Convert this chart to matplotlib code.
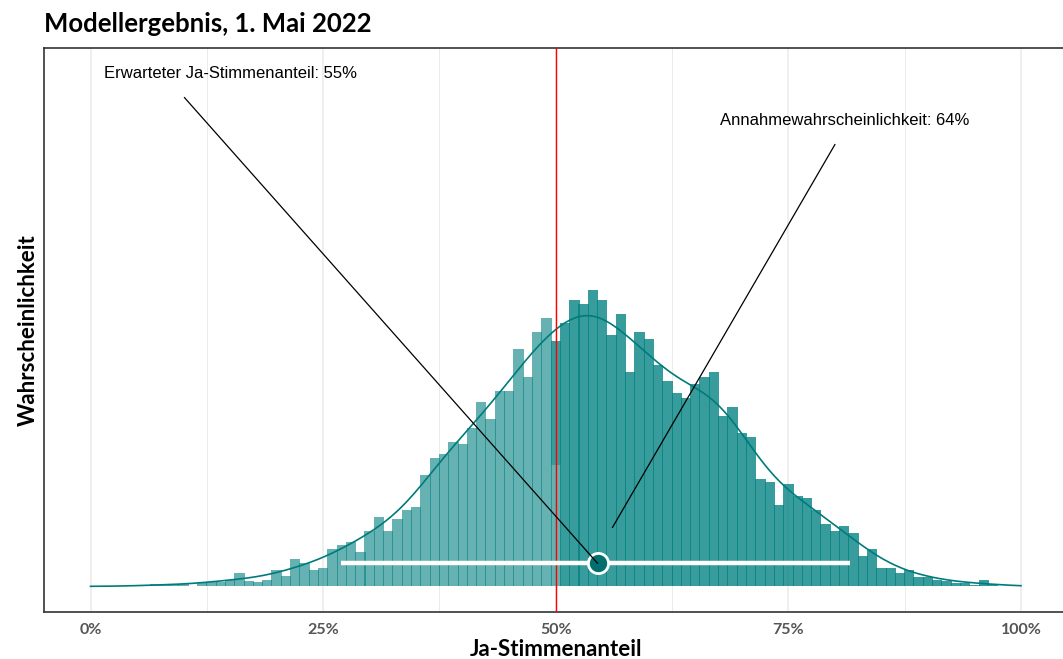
import numpy as np
import matplotlib
matplotlib.use("Agg")
import matplotlib.pyplot as plt
from matplotlib.ticker import FixedLocator

# ---------------- data ----------------
# histogram bins: 1 %-wide bins centred on whole percents (share of yes votes)
bin_pct = list(range(5, 98))
# relative frequency (arbitrary units)
heights = {
    5: 0.5, 6: 0.5, 7: 2.7, 8: 1.0, 9: 2.5, 10: 2.0, 11: 0.8, 12: 3.0, 13: 4.5, 14: 4.8,
    15: 6.0, 16: 13.7, 17: 5.0, 18: 4.7, 19: 6.7, 20: 16.7, 21: 10.0, 22: 27.7, 23: 23.3,
    24: 16.8, 25: 18.8, 26: 37.7, 27: 41.7, 28: 44.5, 29: 34.8, 30: 55.7, 31: 69.7,
    32: 55.7, 33: 67.8, 34: 76.7, 35: 79.7, 36: 111.7, 37: 128.7, 38: 132.8, 39: 144.7,
    40: 142.8, 41: 158.5, 42: 184.7, 43: 167.7, 44: 195.7, 45: 195.7, 46: 237.7,
    47: 209.7, 48: 254.8, 49: 268.8, 50: 245.0, 51: 264.0, 52: 286.7, 53: 282.7,
    54: 296.7, 55: 286.7, 56: 251.7, 57: 272.7, 58: 214.7, 59: 254.7, 60: 247.7,
    61: 221.7, 62: 205.7, 63: 193.7, 64: 188.7, 65: 202.7, 66: 209.7, 67: 214.7,
    68: 170.7, 69: 179.7, 70: 153.7, 71: 149.7, 72: 107.7, 73: 104.7, 74: 81.7,
    75: 102.7, 76: 90.7, 77: 88.7, 78: 76.7, 79: 62.7, 80: 55.7, 81: 60.7, 82: 53.7,
    83: 30.7, 84: 37.7, 85: 18.7, 86: 18.7, 87: 13.7, 88: 16.7, 89: 9.7, 90: 9.0,
    91: 6.7, 92: 5.7, 93: 3.0, 94: 3.7, 95: 1.0, 96: 6.7, 97: 2.0,
}
# in the bin centred on 50 % part of the draws lie below 50 %
split_bin_light = 121.7

expected_share = 0.545          # "Erwarteter Ja-Stimmenanteil: 55%"
interval_low, interval_high = 0.269, 0.816
acceptance_prob = 64            # "Annahmewahrscheinlichkeit: 64%"
threshold = 0.5

x_ticks = [0, 0.25, 0.5, 0.75, 1.0]
x_tick_labels = ["0%", "25%", "50%", "75%", "100%"]
x_minor = [0.125, 0.375, 0.625, 0.875]

title = "Modellergebnis, 1. Mai 2022"
x_label = "Ja-Stimmenanteil"
y_label = "Wahrscheinlichkeit"
ann1 = f"Erwarteter Ja-Stimmenanteil: {round(expected_share*100)}%"
ann2 = f"Annahmewahrscheinlichkeit: {acceptance_prob}%"

# ---------------- derived ----------------
centers = np.array(bin_pct) / 100.0
h = np.array([heights[k] for k in bin_pct])
light = np.where(centers < threshold - 1e-9, h, 0.0)
dark = np.where(centers >= threshold - 1e-9, h, 0.0)
idx50 = bin_pct.index(50)
light[idx50] = split_bin_light
dark[idx50] = h[idx50] - split_bin_light
width = 0.01

# smoothed density from histogram (gaussian smoothing, area preserving)
sigma = 0.029
grid = np.linspace(0, 1, 801)
dens = (h[None, :] * width / (sigma * np.sqrt(2 * np.pi)) *
        np.exp(-0.5 * ((grid[:, None] - centers[None, :]) / sigma) ** 2)).sum(axis=1)

# ---------------- plot ----------------
teal = "#008080"
fig = plt.figure(figsize=(10.63, 6.59), dpi=100)
ax = fig.add_axes([44 / 1063, 1 - 612 / 659, (1067.5 - 44) / 1063, (612 - 48) / 659])

ax.set_xlim(-0.05, 1.05)
ymax_pad = 513.0
ax.set_ylim(-0.05 * ymax_pad, ymax_pad * 1.05)

ax.xaxis.set_major_locator(FixedLocator(x_ticks))
ax.xaxis.set_minor_locator(FixedLocator(x_minor))
ax.set_xticklabels(x_tick_labels)
ax.set_yticks([])
ax.grid(True, which="major", axis="x", color="#ebebeb", lw=1.1, zorder=0)
ax.grid(True, which="minor", axis="x", color="#ebebeb", lw=0.7, zorder=0)
ax.set_axisbelow(True)
ax.tick_params(axis="x", which="both", length=0, pad=8)
for lab in ax.get_xticklabels():
    lab.set_fontfamily("Lato")
    lab.set_fontweight("bold")
    lab.set_fontsize(11.5)
    lab.set_color("#555555")

overlap = 0.0011
ax.bar(centers, light, width=width + overlap, color=teal, alpha=0.6,
       linewidth=0, zorder=2)
ax.bar(centers, dark, width=width + overlap, bottom=light, color=teal, alpha=0.78,
       linewidth=0, zorder=2)
ax.plot(grid, dens, color="#007b7b", lw=1.2, zorder=3)

ax.axvline(threshold, color="#ff0000", lw=1.0, zorder=4)

interval_y = 23
ax.plot([interval_low, interval_high], [interval_y, interval_y], color="white",
        lw=3.2, solid_capstyle="butt", zorder=5)
ax.plot([expected_share], [interval_y], marker="o", ms=14.5, mfc="#006f6d",
        mec="white", mew=2.0, zorder=6)

# annotations
ax.text(0.15, 513, ann1, ha="center", va="center", fontsize=12,
        family="Liberation Sans", zorder=7)
ax.plot([0.101, expected_share], [489, interval_y], color="black", lw=0.9, zorder=6)
ax.text(0.811, 466, ann2, ha="center", va="center", fontsize=12,
        family="Liberation Sans", zorder=7)
ax.plot([0.80, 0.561], [442, 59], color="black", lw=0.9, zorder=6)

for side in ["left", "bottom", "top", "right"]:
    ax.spines[side].set_color("#333333")
    ax.spines[side].set_linewidth(1.2)

ax.set_xlabel(x_label, family="Lato", fontweight="bold", fontsize=16, labelpad=1)
ax.set_ylabel(y_label, family="Lato", fontweight="bold", fontsize=16, labelpad=4)
fig.text(44 / 1063, 1 - 24 / 659, title, family="Lato", fontweight="bold",
         fontsize=18.5, ha="left", va="center")

fig.savefig("out.png", dpi=100)
